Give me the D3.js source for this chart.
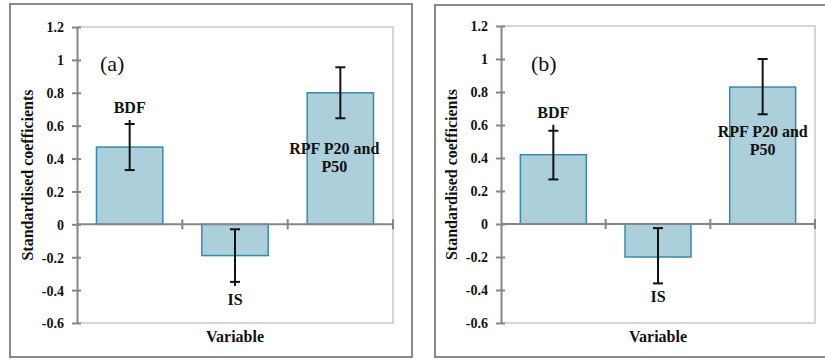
<!DOCTYPE html>
<html>
<head>
<meta charset="utf-8">
<script src="https://cdn.jsdelivr.net/npm/d3@7/dist/d3.min.js"></script>
<style>
  html, body { margin: 0; padding: 0; background: #ffffff; }
  svg { display: block; }
</style>
</head>
<body>
<svg id="chart" width="825" height="360"></svg>
<script>
// Variables in the regression
const categories = ["BDF", "IS", "RPF P20 and P50"];
const categoryLabels = [["BDF"], ["IS"], ["RPF P20 and", "P50"]];

// Panel (a): standardised coefficients and their error-bar limits
const coefA = [0.47, -0.19, 0.80];
const lowA = [0.33, -0.35, 0.645];
const highA = [0.61, -0.03, 0.955];

// Panel (b)
const coefB = [0.42, -0.20, 0.83];
const lowB = [0.27, -0.36, 0.665];
const highB = [0.565, -0.025, 1.0];

const yTicks = [-0.6, -0.4, -0.2, 0, 0.2, 0.4, 0.6, 0.8, 1, 1.2];
const tickText = ["-0.6", "-0.4", "-0.2", "0", "0.2", "0.4", "0.6", "0.8", "1", "1.2"];

const FONT = "'Liberation Serif', 'Times New Roman', 'DejaVu Serif', serif";

const panels = [
  {
    tag: "(a)", coef: coefA, low: lowA, high: highA,
    frame: { x: 10, y: 4, w: 402, h: 353 },
    plot: { left: 77, right: 393, top: 27, bottom: 323 },
    tagPos: { x: 100, y: 71 },
    yTitleX: 33,
    // label placement relative to each bar (px)
    labelDy: [-11, 23, 61], labelDx: [0, 0, -6],
    stemOver: [{ top: 4, bottom: 0 }, { top: 0, bottom: 4 }, { top: 0, bottom: 0 }]
  },
  {
    tag: "(b)", coef: coefB, low: lowB, high: highB,
    frame: { x: 435, y: 5, w: 400, h: 352 },
    plot: { left: 501, right: 815, top: 26, bottom: 323 },
    tagPos: { x: 531, y: 71 },
    yTitleX: 457,
    labelDy: [-13, 19, 50], labelDx: [0, 0, 0],
    stemOver: [{ top: 6, bottom: 0 }, { top: 0, bottom: 0 }, { top: 0, bottom: 0 }]
  }
];

const svg = d3.select("#chart");
const axisGrey = "#868686";
const barFill = "#abd0dc";
const barStroke = "#3b89a8";

panels.forEach(p => {
  const g = svg.append("g").attr("font-family", FONT);

  // outer panel frame
  g.append("rect")
    .attr("x", p.frame.x).attr("y", p.frame.y)
    .attr("width", p.frame.w).attr("height", p.frame.h)
    .attr("fill", "none").attr("stroke", "#8a8a8a").attr("stroke-width", 2);

  const x = d3.scaleBand().domain(categories)
    .range([p.plot.left, p.plot.right]).paddingInner(0.37).paddingOuter(0.185);
  const xEdges = d3.scaleBand().domain(categories)
    .range([p.plot.left, p.plot.right]).padding(0);
  const y = d3.scaleLinear().domain([-0.6, 1.2]).range([p.plot.bottom, p.plot.top]);

  // plot area border (top, right, bottom)
  g.append("path")
    .attr("d", `M${p.plot.left},${y(1.2)}H${p.plot.right}V${y(-0.6)}H${p.plot.left}`)
    .attr("fill", "none").attr("stroke", "#c9c9c9").attr("stroke-width", 1.5);

  // bars
  g.selectAll("rect.bar").data(categories).enter().append("rect")
    .attr("class", "bar")
    .attr("x", d => x(d))
    .attr("width", x.bandwidth())
    .attr("y", (d, i) => y(Math.max(0, p.coef[i])))
    .attr("height", (d, i) => Math.abs(y(p.coef[i]) - y(0)))
    .attr("fill", barFill).attr("stroke", barStroke).attr("stroke-width", 1.5);

  // y axis
  const yAxis = d3.axisLeft(y).tickValues(yTicks).tickSize(0).tickFormat((d, i) => tickText[i]);
  const ya = g.append("g").attr("transform", `translate(${p.plot.left},0)`).call(yAxis);
  ya.attr("font-family", FONT).attr("font-size", 14).attr("font-weight", "bold");
  ya.select(".domain").attr("stroke", axisGrey).attr("stroke-width", 2);
  ya.selectAll(".tick text")
    .attr("x", -13).attr("dy", "0.35em").attr("fill", "#111");
  ya.selectAll(".tick").append("line")
    .attr("x1", -5).attr("x2", 4).attr("stroke", axisGrey).attr("stroke-width", 2);

  // category axis along zero
  g.append("line")
    .attr("x1", p.plot.left).attr("x2", p.plot.right)
    .attr("y1", y(0)).attr("y2", y(0))
    .attr("stroke", axisGrey).attr("stroke-width", 2);
  const edges = categories.slice(1).map(c => xEdges(c)).concat([p.plot.right]);
  g.selectAll("line.xtick").data(edges).enter().append("line")
    .attr("class", "xtick")
    .attr("x1", d => d).attr("x2", d => d)
    .attr("y1", y(0) - 5).attr("y2", y(0) + 5)
    .attr("stroke", axisGrey).attr("stroke-width", 2);

  // error bars
  categories.forEach((c, i) => {
    const cx = x(c) + x.bandwidth() / 2;
    const eb = g.append("g");
    eb.append("line")
      .attr("x1", cx).attr("x2", cx)
      .attr("y1", y(p.high[i]) - p.stemOver[i].top)
      .attr("y2", y(p.low[i]) + p.stemOver[i].bottom)
      .attr("stroke", "#111").attr("stroke-width", 2);
    [p.high[i], p.low[i]].forEach(v => {
      eb.append("line")
        .attr("x1", cx - 5).attr("x2", cx + 5)
        .attr("y1", y(v)).attr("y2", y(v))
        .attr("stroke", "#111").attr("stroke-width", 2);
    });
  });

  // category labels
  categories.forEach((c, i) => {
    const cx = x(c) + x.bandwidth() / 2 + p.labelDx[i];
    let baseY;
    if (i === 0) baseY = y(p.high[i]) + p.labelDy[i];
    else if (i === 1) baseY = y(p.low[i]) + p.labelDy[i];
    else baseY = y(p.coef[i]) + p.labelDy[i];
    const t = g.append("text")
      .attr("text-anchor", "middle").attr("fill", "#111")
      .attr("font-weight", "bold").attr("font-size", 16);
    categoryLabels[i].forEach((line, k) => {
      t.append("tspan").attr("x", cx).attr("y", baseY + k * 18).text(line);
    });
  });

  // panel tag
  g.append("text")
    .attr("x", p.tagPos.x).attr("y", p.tagPos.y).attr("fill", "#111")
    .attr("font-size", 22).text(p.tag);

  // axis titles
  g.append("text")
    .attr("x", (p.plot.left + p.plot.right) / 2)
    .attr("y", 342)
    .attr("text-anchor", "middle").attr("fill", "#111")
    .attr("font-weight", "bold").attr("font-size", 16)
    .text("Variable");

  g.append("text")
    .attr("transform", `translate(${p.yTitleX},${(p.plot.top + p.plot.bottom) / 2}) rotate(-90)`)
    .attr("text-anchor", "middle").attr("fill", "#111")
    .attr("font-weight", "bold").attr("font-size", 16)
    .text("Standardised coefficients");
});
</script>
</body>
</html>
